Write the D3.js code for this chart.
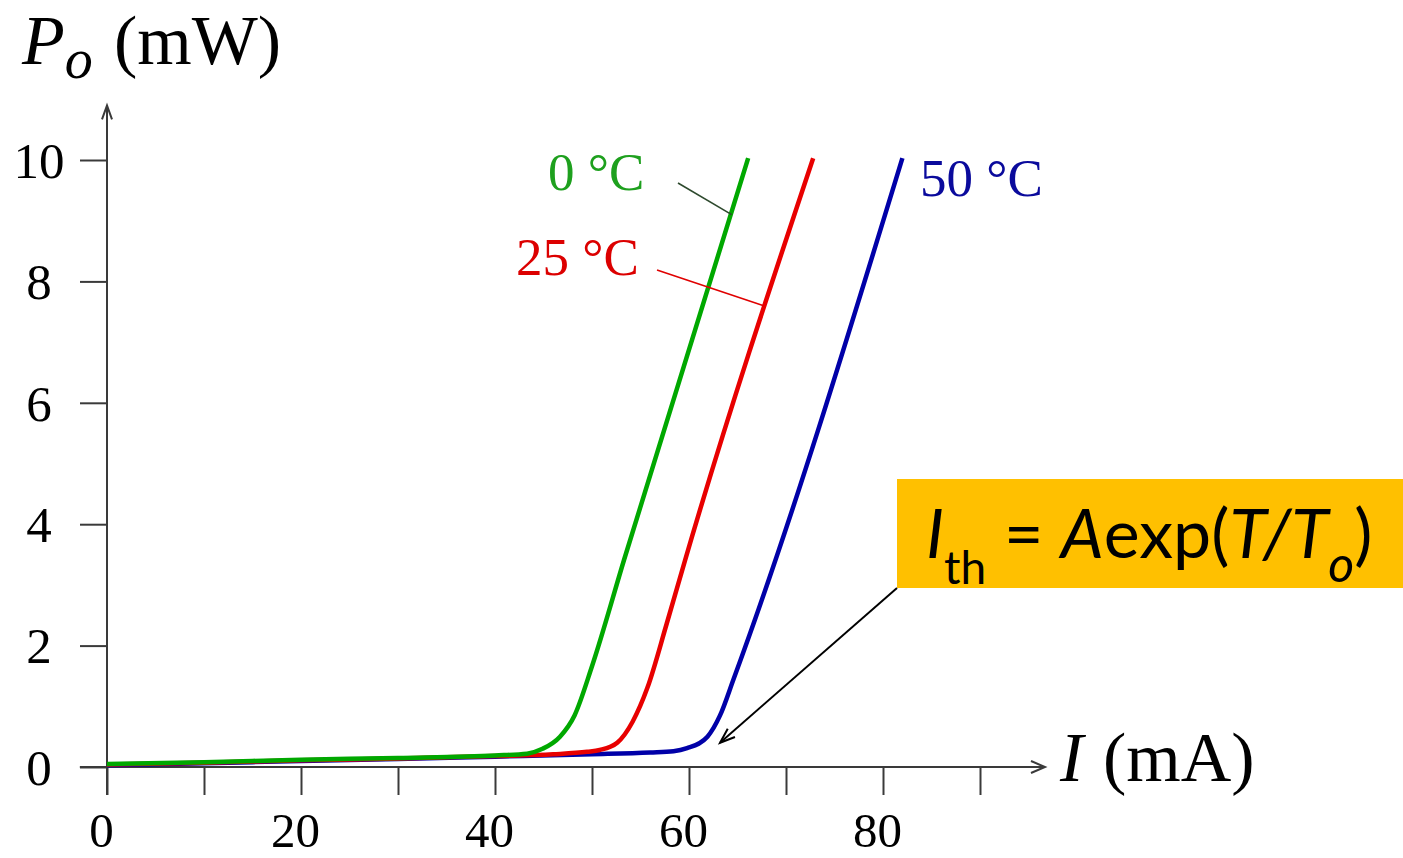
<!DOCTYPE html>
<html>
<head>
<meta charset="utf-8">
<script src="https://cdn.jsdelivr.net/npm/d3@7"></script>
<style>
  html, body { margin: 0; padding: 0; background: #fff; }
  svg { display: block; }
</style>
</head>
<body>
<svg id="chart" width="1403" height="858"></svg>
<script>
// ---- data ----
const xTickValues = [0, 10, 20, 30, 40, 50, 60, 70, 80, 90];
const xTickLabels = ["0", "", "20", "", "40", "", "60", "", "80", ""];
const yTickValues = [0, 2, 4, 6, 8, 10];
const yTickLabels = ["0", "2", "4", "6", "8", "10"];

const seriesNames = ["0 °C", "25 °C", "50 °C"];
// current I (mA) and output power Po (mW)
const current0C  = [0, 10, 20, 30, 40, 43.3, 44.9, 46.7, 48.2, 50.0, 53.3, 66.1];
const power0C    = [0.05, 0.08, 0.12, 0.15, 0.19, 0.22, 0.30, 0.50, 0.85, 1.66, 3.41, 10.03];
const current25C = [0, 10, 20, 30, 40, 46.0, 49.5, 50.8, 52.6, 54.2, 55.7, 57.7, 59.6, 72.8];
const power25C   = [0.04, 0.07, 0.11, 0.14, 0.18, 0.21, 0.25, 0.28, 0.40, 0.75, 1.30, 2.36, 3.41, 10.03];
const current50C = [0, 10, 20, 30, 40, 50, 56.0, 58.4, 59.8, 61.9, 63.2, 64.6, 82.0];
const power50C   = [0.03, 0.06, 0.10, 0.13, 0.17, 0.21, 0.24, 0.26, 0.31, 0.50, 0.85, 1.45, 10.03];

// ---- layout ----
const svg = d3.select("#chart");
const x = d3.scaleLinear().domain([0, 90]).range([107, 980]);
const y = d3.scaleLinear().domain([0, 10]).range([767, 160]);
const serif = "'Liberation Serif', 'Times New Roman', serif";
const axisColor = "#3a3a3a";

// axes ticks
const gx = svg.append("g").attr("transform", `translate(0,${y(0)})`)
  .call(d3.axisBottom(x).tickValues(xTickValues).tickSize(28)
        .tickFormat((d, i) => xTickLabels[i]));
gx.select(".domain").remove();
gx.selectAll(".tick line").attr("stroke", axisColor).attr("stroke-width", 2);
gx.selectAll(".tick text")
  .attr("y", 80).attr("dy", 0).attr("dx", -6)
  .attr("font-family", serif).attr("font-size", 49).attr("fill", "#000");

const gy = svg.append("g").attr("transform", `translate(${x(0)},0)`)
  .call(d3.axisLeft(y).tickValues(yTickValues).tickSize(27)
        .tickFormat((d, i) => yTickLabels[i]));
gy.select(".domain").remove();
gy.selectAll(".tick line").attr("stroke", axisColor).attr("stroke-width", 2);
gy.selectAll(".tick text")
  .attr("x", -68).attr("dy", "0.34em").attr("text-anchor", "middle")
  .attr("font-family", serif).attr("font-size", 51).attr("fill", "#000");

// axis lines with arrows
const xAxisEnd = 96.7, yAxisEnd = 10.9, yAxisBottom = -0.46, xAxisStart = -2.8;
svg.append("line")
  .attr("x1", x(xAxisStart)).attr("y1", y(0)).attr("x2", x(xAxisEnd)).attr("y2", y(0))
  .attr("stroke", axisColor).attr("stroke-width", 2);
svg.append("line")
  .attr("x1", x(0)).attr("y1", y(yAxisBottom)).attr("x2", x(0)).attr("y2", y(yAxisEnd))
  .attr("stroke", axisColor).attr("stroke-width", 2);
const xa = x(xAxisEnd), ya = y(yAxisEnd);
svg.append("path")
  .attr("d", `M${xa - 14},${y(0) - 6} L${xa},${y(0)} L${xa - 14},${y(0) + 6}`)
  .attr("fill", "none").attr("stroke", axisColor).attr("stroke-width", 2);
svg.append("path")
  .attr("d", `M${x(0) - 5},${ya + 14} L${x(0)},${ya} L${x(0) + 5},${ya + 14}`)
  .attr("fill", "none").attr("stroke", axisColor).attr("stroke-width", 2);

// axis titles
const yTitle = svg.append("text").attr("font-family", serif).attr("fill", "#000")
  .attr("x", 22).attr("y", 64).attr("font-size", 70);
yTitle.append("tspan").attr("font-style", "italic").text("P");
yTitle.append("tspan").attr("font-style", "italic").attr("font-size", 56).attr("dy", 14).attr("dx", 0).text("o");
yTitle.append("tspan").attr("x", 114).attr("y", 64).text("(mW)");

const xTitle = svg.append("text").attr("font-family", serif).attr("fill", "#000")
  .attr("x", 1060).attr("y", 781).attr("font-size", 70);
xTitle.append("tspan").attr("font-style", "italic").text("I");
xTitle.append("tspan").attr("x", 1103).text("(mA)");

// curves
const line = d3.line().x(d => x(d[0])).y(d => y(d[1])).curve(d3.curveMonotoneX);
const curves = [
  { I: current0C,  P: power0C,  color: "#00a800" },
  { I: current25C, P: power25C, color: "#e80000" },
  { I: current50C, P: power50C, color: "#0000a8" }
];
[2, 1, 0].forEach(k => {
  const c = curves[k];
  const pts = c.I.map((v, i) => [v, c.P[i]]);
  svg.append("path").attr("d", line(pts))
    .attr("fill", "none").attr("stroke", c.color)
    .attr("stroke-width", 4.5).attr("stroke-linejoin", "round").attr("stroke-linecap", "butt");
});

// series labels
const labelColors = ["#1ea01e", "#dc0000", "#0a0a9c"];
svg.append("text").attr("x", 548).attr("y", 190).attr("font-family", serif)
  .attr("font-size", 53).attr("fill", labelColors[0]).text(seriesNames[0]);
svg.append("text").attr("x", 516).attr("y", 275).attr("font-family", serif)
  .attr("font-size", 53).attr("fill", labelColors[1]).text(seriesNames[1]);
svg.append("text").attr("x", 920).attr("y", 196).attr("font-family", serif)
  .attr("font-size", 53).attr("fill", labelColors[2]).text(seriesNames[2]);

// leader lines
svg.append("line").attr("x1", 678).attr("y1", 183).attr("x2", x(64.4)).attr("y2", y(9.1))
  .attr("stroke", "#2e4a2e").attr("stroke-width", 1.6);
svg.append("line").attr("x1", 657).attr("y1", 270).attr("x2", x(67.7)).attr("y2", y(7.6))
  .attr("stroke", "#e00000").attr("stroke-width", 1.6);

// formula box
svg.append("rect").attr("x", 897).attr("y", 479).attr("width", 506).attr("height", 109)
  .attr("fill", "#ffc000");
const sans = "Lato, 'Open Sans', sans-serif";
const ft = svg.append("text").attr("font-family", sans).attr("fill", "#000")
  .attr("x", 926).attr("y", 558).attr("font-size", 68);
ft.append("tspan").attr("font-style", "italic").text("I");
ft.append("tspan").attr("font-size", 46).attr("x", 944).attr("dy", 26).text("th");
ft.append("tspan").attr("x", 1004).attr("dy", -26).text("= ");
ft.append("tspan").attr("font-style", "italic").text("A");
ft.append("tspan").text("exp(");
ft.append("tspan").attr("font-style", "italic").text("T/T");
ft.append("tspan").attr("font-style", "italic").attr("font-size", 50).attr("dy", 24).text("o");
ft.append("tspan").attr("dy", -24).text(")");

// arrow from box to 50 °C threshold
const ax1 = 897, ay1 = 588, ax2 = x(63.2), ay2 = y(0.4);
svg.append("line").attr("x1", ax1).attr("y1", ay1).attr("x2", ax2).attr("y2", ay2)
  .attr("stroke", "#000").attr("stroke-width", 2);
const ang = Math.atan2(ay2 - ay1, ax2 - ax1);
const hl = 16, hw = 0.35;
svg.append("path")
  .attr("d", `M${ax2 - hl * Math.cos(ang - hw)},${ay2 - hl * Math.sin(ang - hw)} L${ax2},${ay2} L${ax2 - hl * Math.cos(ang + hw)},${ay2 - hl * Math.sin(ang + hw)}`)
  .attr("fill", "none").attr("stroke", "#000").attr("stroke-width", 2);
</script>
</body>
</html>
